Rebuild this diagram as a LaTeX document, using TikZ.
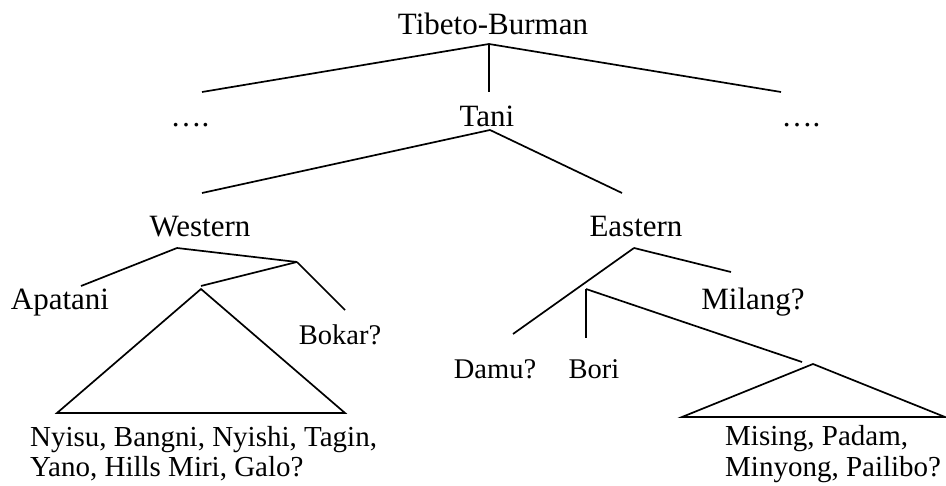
\documentclass[tikz,border=0pt]{standalone}
\usepackage{fontspec}
\setmainfont{Liberation Serif}
\begin{document}
\begin{tikzpicture}[x=1pt,y=-1pt,
  lbl/.style={inner sep=0pt, anchor=base, font=\fontsize{31}{31}\selectfont},
  sml/.style={inner sep=0pt, anchor=base, font=\fontsize{28.5}{28.5}\selectfont},
  lst/.style={inner sep=0pt, anchor=base west, font=\fontsize{29}{29}\selectfont},
  edge/.style={line width=1.7pt, line cap=butt, line join=miter}]
\useasboundingbox (0,0) rectangle (946,486);
% labels
\node[lbl] (tb) at (493,35) {Tibeto-Burman};
\node[lbl] (tani) at (487,127) {Tani};
\node[lbl] (dl) at (190,127) {….};
\node[lbl] (dr) at (801,127) {….};
\node[lbl] (west) at (200,237) {Western};
\node[lbl] (east) at (636,237) {Eastern};
\node[lbl] (apa) at (60,310) {Apatani};
\node[sml] (bok) at (340,345) {Bokar?};
\node[lbl] (mil) at (753,310) {Milang?};
\node[sml] (damu) at (495,379) {Damu?};
\node[sml] (bori) at (594,379) {Bori};
\node[lst] (l1) at (30,447) {Nyisu, Bangni, Nyishi, Tagin,};
\node[lst] (l2) at (30,477) {Yano, Hills Miri, Galo?};
\node[lst] (r1) at (725,446) {Mising, Padam,};
\node[lst] (r2) at (725,477) {Minyong, Pailibo?};
% junction points
\coordinate (tbJ) at (489,44);
\coordinate (tbL) at (202,92);
\coordinate (tbM) at (489,92);
\coordinate (tbR) at (781,92);
\coordinate (taJ) at (490,130);
\coordinate (taL) at (202,193);
\coordinate (taR) at (622,193);
\coordinate (wJ) at (177,248);
\coordinate (wA) at (81,286);
\coordinate (wK) at (297,262);
\coordinate (wT) at (201,286);
\coordinate (wB) at (345,310);
\coordinate (tw1) at (201,289);
\coordinate (tw2) at (57,413);
\coordinate (tw3) at (345,413);
\coordinate (eJ) at (634,248);
\coordinate (eD) at (513,334);
\coordinate (eM) at (731,272);
\coordinate (bJ) at (586,289);
\coordinate (bB) at (586,338);
\coordinate (pE) at (802,362);
\coordinate (te1) at (813,364);
\coordinate (te2) at (682,417);
\coordinate (te3) at (945,417);
% connectors
\draw[edge] (tbJ) -- (tbL);
\draw[edge] (tbJ) -- (tbM);
\draw[edge] (tbJ) -- (tbR);
\draw[edge] (taJ) -- (taL);
\draw[edge] (taJ) -- (taR);
\draw[edge] (wJ) -- (wA);
\draw[edge] (wJ) -- (wK);
\draw[edge] (wK) -- (wT);
\draw[edge] (wK) -- (wB);
\draw[edge] (tw1) -- (tw2) -- (tw3) -- cycle;
\draw[edge] (eJ) -- (eD);
\draw[edge] (eJ) -- (eM);
\draw[edge] (bJ) -- (bB);
\draw[edge] (bJ) -- (pE);
\draw[edge] (te1) -- (te2) -- (te3) -- cycle;
\end{tikzpicture}
\end{document}
